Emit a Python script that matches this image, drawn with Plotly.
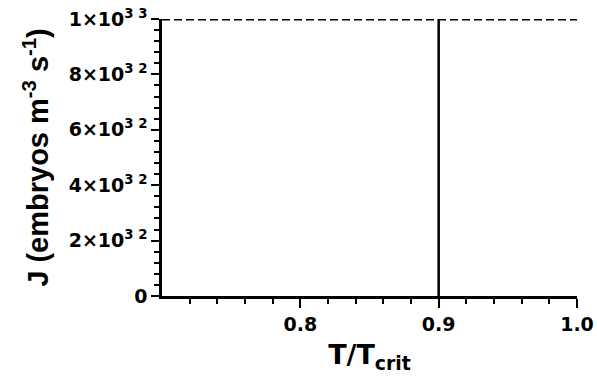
import plotly.graph_objects as go

# Axis ranges and tick labels
x_range = [0.7, 1.0]
y_range = [0, 1e33]
x_tick_vals = [0.8, 0.9, 1.0]
x_tick_text = ["0.8", "0.9", "1.0"]
x_minor_vals = [0.72, 0.74, 0.76, 0.78, 0.82, 0.84, 0.86, 0.88, 0.92, 0.94, 0.96, 0.98]
y_tick_vals = [0, 2e32, 4e32, 6e32, 8e32, 1e33]
y_tick_text = ["0", "2×10<sup>3 2</sup>", "4×10<sup>3 2</sup>", "6×10<sup>3 2</sup>",
               "8×10<sup>3 2</sup>", "1×10<sup>3 3</sup>"]
y_minor_vals = [v * 4e31 for v in range(1, 25) if v % 5 != 0]

# Series: critical threshold level and the step at T/Tcrit = 0.9
threshold_x = [0.7, 1.0]
threshold_y = [1e33, 1e33]
step_x = [0.9, 0.9]
step_y = [0, 1e33]

wide_font = "DejaVu Sans, Liberation Sans, sans-serif"
title_font = "Liberation Sans, Arial, sans-serif"

fig = go.Figure()
fig.add_trace(go.Scatter(x=threshold_x, y=threshold_y, mode="lines",
                         line=dict(color="black", width=2.8, dash="8px,4px"),
                         cliponaxis=False, showlegend=False))
fig.add_trace(go.Scatter(x=step_x, y=step_y, mode="lines",
                         line=dict(color="black", width=2.5),
                         cliponaxis=False, showlegend=False))

fig.update_layout(
    width=597, height=379,
    margin=dict(l=162, r=20, t=19, b=83),
    paper_bgcolor="white", plot_bgcolor="white",
    font=dict(family=wide_font, color="black", size=19, weight="bold"),
    xaxis=dict(
        range=x_range, showgrid=False, zeroline=False, automargin=False,
        showline=True, linecolor="black", linewidth=2.5,
        tickmode="array", tickvals=x_tick_vals, ticktext=x_tick_text,
        ticks="outside", ticklen=9, tickwidth=2, tickcolor="black",
        tickfont=dict(size=19, family=wide_font, weight="bold"),
        minor=dict(tickmode="array", tickvals=x_minor_vals, ticks="outside",
                   ticklen=5, tickwidth=2, tickcolor="black", showgrid=False),
        title=dict(text="T/T<sub>crit</sub>", standoff=12,
                   font=dict(size=27, family=wide_font, weight="bold")),
    ),
    yaxis=dict(
        range=y_range, showgrid=False, zeroline=False, automargin=False,
        showline=True, linecolor="black", linewidth=2.5,
        tickmode="array", tickvals=y_tick_vals, ticktext=y_tick_text,
        ticks="outside", ticklen=8, tickwidth=2, tickcolor="black",
        tickfont=dict(size=19, family=wide_font, weight="bold"),
        minor=dict(tickmode="array", tickvals=y_minor_vals, ticks="outside",
                   ticklen=5, tickwidth=2, tickcolor="black", showgrid=False),
        title=dict(text="J (embryos m<sup>-3</sup> s<sup>-1</sup>)", standoff=12,
                   font=dict(size=29, family=title_font, weight="bold")),
    ),
)

fig.write_html("out.html")
